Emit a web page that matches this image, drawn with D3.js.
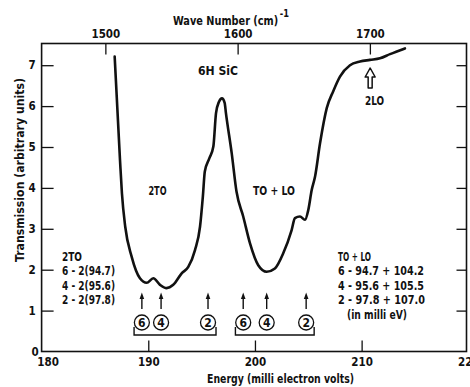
<!DOCTYPE html>
<html><head><meta charset="utf-8">
<script src="https://cdn.jsdelivr.net/npm/d3@7"></script>
<style>
html,body{margin:0;padding:0;background:#fff;}
svg{display:block;}
text{font-family:"Liberation Sans Narrow","Arial Narrow","DejaVu Sans Condensed",sans-serif;fill:#111;font-weight:bold;}
</style></head>
<body>
<svg id="c" width="470" height="387"></svg>
<script>
// ---- data ----
const energy = [186.85,187.35,187.53,187.84,188.44,189.22,189.85,190.47,191.10,191.72,192.34,193.13,193.75,194.38,194.85,195.12,195.30,195.72,196.10,196.35,196.62,196.91,197.16,197.28,197.82,198.27,198.90,199.53,200.31,201.10,201.87,202.65,203.44,203.75,204.22,204.69,205.00,205.32,205.63,206.10,206.73,207.35,207.97,208.91,209.85,210.78,211.72,212.66,214.06];
const transmission = [7.21,4.68,3.87,3.05,2.32,1.79,1.68,1.79,1.63,1.55,1.63,1.91,2.07,2.48,3.05,3.80,4.40,4.72,5.01,5.83,6.10,6.19,6.08,5.83,4.85,3.91,3.30,2.65,2.11,1.95,2.03,2.40,2.97,3.26,3.30,3.22,3.46,3.95,4.27,5.09,5.95,6.37,6.72,7.00,7.09,7.13,7.17,7.27,7.41];
const phononLabels = ["6","4","2"];
const toEnergy = [94.7,95.6,97.8];
const loEnergy = [104.2,105.5,107.0];
const twoLO = 210.8;
const energyTicks = [180,190,200,210,220];
const waveTicks = [1500,1600,1700];
const transTicks = [0,1,2,3,4,5,6,7];
const cmPerMeV = 8.0655;
const leftText = ["2TO","6 - 2(94.7)","4 - 2(95.6)","2 - 2(97.8)"];
const rightText = ["TO + LO","6 - 94.7 + 104.2","4 - 95.6 + 105.5","2 - 97.8 + 107.0","(in milli eV)"];

// ---- layout ----
const svg = d3.select("#c");
const X0 = 41.6, X1 = 468.3, FR = 466.5, FT = 43.5, FB = 351.5;
const x = d3.scaleLinear().domain([180,220]).range([X0,X1]);
const xw = d3.scaleLinear().domain([180*cmPerMeV,220*cmPerMeV]).range([X0,X1]);
const y = d3.scaleLinear().domain([0,7]).range([FB,65.2]);

// frame
svg.append("rect").attr("x",X0).attr("y",FT).attr("width",FR-X0).attr("height",FB-FT)
  .attr("fill","none").attr("stroke","#111").attr("stroke-width",1.6);

function styleAxis(g, fs){
  g.select(".domain").remove();
  g.selectAll("line").attr("stroke","#111").attr("stroke-width",1.3);
  g.selectAll("text").attr("font-size",fs).attr("fill","#111");
}
// bottom axis
const gb = svg.append("g").attr("transform",`translate(0,${FB})`)
  .call(d3.axisBottom(x).tickValues(energyTicks).tickFormat(d3.format("d")).tickSizeInner(-11).tickSizeOuter(0).tickPadding(6));
styleAxis(gb,11.5);
gb.selectAll(".tick").filter(d=>d===180).select("text").attr("dx",6);
gb.selectAll(".tick").filter(d=>d===180||d===220).select("line").remove();
// top axis
const gt = svg.append("g").attr("transform",`translate(0,${FT})`)
  .call(d3.axisTop(xw).tickValues(waveTicks).tickFormat(d3.format("d")).tickSizeInner(-11).tickSizeOuter(0).tickPadding(6));
styleAxis(gt,11.5);
// left axis
const gl = svg.append("g").attr("transform",`translate(${X0},0)`)
  .call(d3.axisLeft(y).tickValues(transTicks).tickFormat(d3.format("d")).tickSizeInner(-12).tickSizeOuter(0).tickPadding(6));
styleAxis(gl,11.5);
gl.selectAll(".tick").filter(d=>d===0).select("text").attr("dx",3);
gl.selectAll(".tick").filter(d=>d===0).select("line").remove();
// right axis
const gr = svg.append("g").attr("transform",`translate(${FR},0)`)
  .call(d3.axisRight(y).tickValues(transTicks.filter(d=>d>0)).tickFormat("").tickSizeInner(-10).tickSizeOuter(0));
styleAxis(gr,11);

// text helper (textLength keeps widths close to the reference)
const lbl = (t,xx,yy,fs,anchor,len)=>{
  const s = svg.append("text").attr("x",xx).attr("y",yy).attr("font-size",fs)
    .attr("text-anchor",anchor||"start").text(t);
  if(len) s.attr("textLength",len).attr("lengthAdjust","spacingAndGlyphs");
  return s;
};

// axis titles
const wt = svg.append("text").attr("x",173).attr("y",25).attr("font-size",13)
  .attr("textLength",116).attr("lengthAdjust","spacingAndGlyphs");
wt.append("tspan").text("Wave Number (cm)");
wt.append("tspan").attr("dx",2).attr("dy",-8).attr("font-size",11).text("-1");
lbl("Energy (milli electron volts)",207,383,13,"start",147);
svg.append("text").attr("transform","translate(24,170) rotate(-90)").attr("text-anchor","middle")
  .attr("font-size",13).attr("textLength",184).attr("lengthAdjust","spacingAndGlyphs")
  .text("Transmission (arbitrary units)");

// curve
const pts = energy.map((e,i)=>[e,transmission[i]]);
svg.append("path").datum(pts)
  .attr("d",d3.line().x(d=>x(d[0])).y(d=>y(d[1])).curve(d3.curveMonotoneX))
  .attr("fill","none").attr("stroke","#111").attr("stroke-width",2.6).attr("stroke-linejoin","round").attr("stroke-linecap","round");

// annotations
lbl("6H  SiC",198,75,12,"start",40);
lbl("2TO",148.5,195,12,"start",18);
lbl("TO + LO",253,195,12,"start",42);
lbl("2LO",365,105,12,"start",19);

const leftW = [20,53,53,53];
leftText.forEach((t,i)=>lbl(t,62,261+i*14.4,12,"start",leftW[i]));
const rightX = [338,338,338,338,347];
const rightW = [33,86,86,87,60];
rightText.forEach((t,i)=>lbl(t,rightX[i],261+i*14.4,12.5,"start",rightW[i]));

// 2LO hollow arrow
const ax = x(twoLO);
svg.append("path").attr("d",`M${ax},68 L${ax-5},77 L${ax-2},77 L${ax-2},88 L${ax+2},88 L${ax+2},77 L${ax+5},77 Z`)
  .attr("fill","#fff").attr("stroke","#111").attr("stroke-width",1.5).attr("stroke-linejoin","round");

// phonon combination markers
const groups = [
  toEnergy.map(v=>2*v),
  toEnergy.map((v,i)=>v+loEnergy[i])
];
groups.forEach(g=>{
  g.forEach((e,i)=>{
    const px = x(e);
    svg.append("line").attr("x1",px).attr("x2",px).attr("y1",309).attr("y2",297)
      .attr("stroke","#111").attr("stroke-width",1.4);
    svg.append("path").attr("d",`M${px},292.5 L${px-2.3},299 L${px+2.3},299 Z`).attr("fill","#111");
    svg.append("circle").attr("cx",px).attr("cy",322.5).attr("r",7.5)
      .attr("fill","#fff").attr("stroke","#111").attr("stroke-width",1.3);
    lbl(phononLabels[i],px,327,12,"middle");
  });
  const xa = x(g[0])-7.8, xb = x(g[2])+8;
  svg.append("path").attr("d",`M${xa},327 L${xa},335 L${xb},335 L${xb},327`)
    .attr("fill","none").attr("stroke","#111").attr("stroke-width",1.4);
});
</script>
</body></html>
